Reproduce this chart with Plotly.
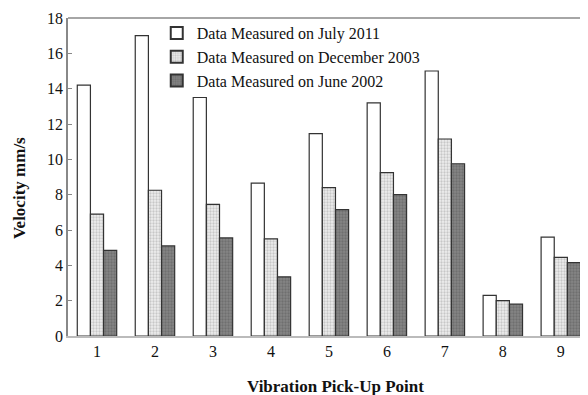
import plotly.graph_objects as go

points = [1, 2, 3, 4, 5, 6, 7, 8, 9]
july_2011 = [14.2, 17.0, 13.5, 8.65, 11.45, 13.2, 15.0, 2.3, 5.6]
dec_2003 = [6.9, 8.25, 7.45, 5.5, 8.4, 9.25, 11.15, 2.0, 4.45]
june_2002 = [4.85, 5.1, 5.55, 3.35, 7.15, 8.0, 9.75, 1.8, 4.15]
names = ["Data Measured on July 2011", "Data Measured on December 2003", "Data Measured on June 2002"]
y_ticks = [0, 2, 4, 6, 8, 10, 12, 14, 16, 18]
x_title = "Vibration Pick-Up Point"
y_title = "Velocity mm/s"

font = "Liberation Serif, Times New Roman, serif"
line = dict(color="#333333", width=1.2)

fig = go.Figure()
fig.add_trace(go.Bar(x=points, y=july_2011, name=names[0],
                     marker=dict(color="white", line=line)))
fig.add_trace(go.Bar(x=points, y=dec_2003, name=names[1],
                     marker=dict(color="#e6e6e6", line=line,
                                 pattern=dict(shape=".", fgcolor="#a0a0a0", bgcolor="#eeeeee",
                                              size=3, solidity=0.45))))
fig.add_trace(go.Bar(x=points, y=june_2002, name=names[2],
                     marker=dict(color="#6e6e6e", line=line,
                                 pattern=dict(shape=".", fgcolor="#5a5a5a", bgcolor="#858585",
                                              size=3, solidity=0.45))))

# page body has an 8px default margin, so the figure is sized/offset to compensate
fig.update_layout(
    width=580, height=387,
    margin=dict(l=60, r=4, t=10, b=59),
    barmode="group", bargap=0.32, bargroupgap=0,
    plot_bgcolor="white", paper_bgcolor="white",
    font=dict(family=font, size=16, color="#111111"),
    showlegend=True,
    legend=dict(x=0.172, y=1.006, xanchor="left", yanchor="top",
                bgcolor="rgba(0,0,0,0)", font=dict(size=16, family=font),
                tracegroupgap=0, itemsizing="constant"),
    xaxis=dict(range=[0.5, 9.4], tickmode="array", tickvals=points, automargin=False,
               ticks="", showline=True, linecolor="#bbbbbb", linewidth=1.5,
               mirror=False, showgrid=False, zeroline=False, tickfont=dict(size=16)),
    yaxis=dict(range=[0, 18], tickvals=y_ticks, ticks="inside", ticklen=4, tickcolor="#888888",
               automargin=False, tickfont=dict(size=16),
               showline=True, linecolor="#888888", linewidth=1.5, showgrid=False, zeroline=False),
    annotations=[
        dict(text="<b>" + x_title + "</b>", xref="paper", yref="paper", x=0.519, y=-0.16,
             xanchor="center", yanchor="middle", showarrow=False, font=dict(size=17, family=font)),
        dict(text="<b>" + y_title + "</b>", xref="paper", yref="paper", x=-0.0950, y=0.465,
             xanchor="center", yanchor="middle", textangle=-90, showarrow=False,
             font=dict(size=17, family=font)),
    ],
)
# top and right frame lines
fig.add_shape(type="line", xref="paper", yref="paper", x0=0, x1=1, y0=1, y1=1,
              line=dict(color="#888888", width=1.5))
fig.add_shape(type="line", xref="paper", yref="paper", x0=1, x1=1, y0=0, y1=1,
              line=dict(color="#cccccc", width=1))

fig.write_html("out.html")
